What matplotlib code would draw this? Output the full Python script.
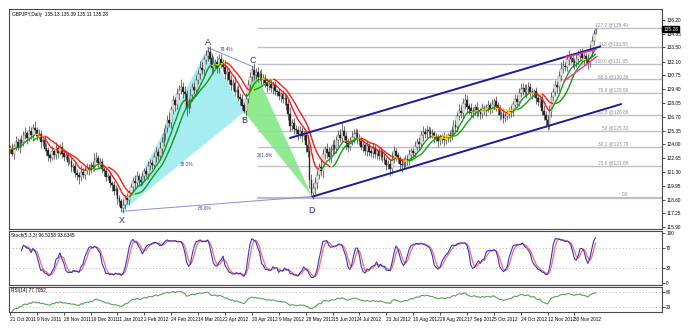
import numpy as np
import pandas as pd
import matplotlib
matplotlib.use("Agg")
import matplotlib.pyplot as plt
from matplotlib.collections import LineCollection
from matplotlib.patches import Polygon

plt.rcParams["font.family"] = ["Liberation Sans", "DejaVu Sans"]

# daily closes, GBPJPY (one per bar)
closes = [
    123.6, 123.1, 123.8, 124.2, 123.7, 124.4, 124.1, 124.9, 125.1, 124.6,
    125.3, 124.9, 125.6, 125.4, 124.8, 125.0, 124.2, 124.4, 123.6, 123.4,
    122.9, 122.7, 123.3, 123.0, 123.6, 123.2, 123.7, 123.1, 122.8, 122.9,
    122.3, 122.4, 121.8, 121.9, 121.2, 121.0, 120.8, 121.3, 121.0, 121.5,
    121.7, 121.5, 122.0, 121.8, 122.5, 122.7, 122.2, 122.3, 121.6, 121.4,
    120.8, 120.9, 120.2, 120.0, 119.4, 119.6, 118.7, 118.4, 117.8, 118.1,
    118.7, 118.6, 119.3, 119.8, 120.4, 120.2, 120.9, 120.5, 120.3, 120.9,
    121.4, 121.1, 121.9, 122.2, 122.0, 122.8, 123.2, 122.9, 123.6, 124.2,
    125.0, 125.6, 126.4, 126.1, 127.4, 128.3, 127.9, 128.9, 129.3, 129.6,
    129.1, 128.9, 127.6, 128.0, 128.8, 129.6, 129.3, 130.3, 130.9, 131.5,
    131.3, 132.3, 132.7, 133.0, 132.4, 131.5, 131.9, 132.0, 131.5, 132.3,
    132.0, 131.6, 130.9, 131.1, 130.3, 129.8, 130.0, 129.1, 129.3, 128.6,
    128.4, 127.8, 127.3, 128.4, 129.8, 130.6, 131.3, 130.8, 131.1, 130.6,
    130.9, 130.3, 130.5, 130.0, 129.7, 129.9, 129.5, 129.8, 129.2, 129.1,
    128.7, 128.9, 128.4, 128.5, 127.9, 127.0, 125.8, 126.1, 125.5, 125.4,
    125.0, 125.3, 124.8, 124.9, 123.9, 123.3, 120.5, 119.3, 119.7, 120.2,
    121.0, 121.8, 121.4, 123.0, 123.5, 123.2, 122.8, 123.5, 123.9, 123.6,
    124.4, 124.9, 124.6, 125.3, 124.8, 124.1, 123.8, 124.3, 124.7, 125.0,
    125.1, 124.6, 124.3, 123.8, 123.9, 123.4, 123.8, 123.3, 123.2, 123.6,
    123.1, 123.3, 122.9, 123.2, 122.8, 122.5, 122.0, 122.1, 121.6, 122.6,
    123.3, 122.9, 122.6, 122.1, 122.0, 122.3, 122.6, 122.4, 123.0, 123.3,
    123.2, 123.8, 124.2, 124.0, 124.9, 125.2, 125.0, 125.4, 125.3, 125.0,
    125.1, 124.7, 124.6, 124.3, 124.5, 124.8, 124.4, 124.6, 124.9, 124.8,
    125.4, 125.9, 125.7, 126.8, 127.3, 127.1, 128.0, 128.3, 127.7, 127.5,
    127.1, 127.3, 127.6, 127.2, 127.3, 127.0, 127.5, 127.3, 127.6, 127.8,
    127.5, 127.9, 128.2, 127.8, 127.5, 126.9, 127.0, 126.6, 126.8, 127.0,
    127.3, 127.2, 127.9, 128.4, 128.2, 129.0, 129.4, 129.5, 129.1, 129.4,
    129.6, 129.1, 129.0, 129.2, 128.5, 128.2, 128.4, 127.3, 126.9, 126.4,
    125.9, 127.2, 128.6, 129.1, 129.8, 129.6, 130.7, 131.4, 131.7, 131.6,
    132.3, 132.6, 132.4, 132.1, 132.0, 132.4, 132.7, 132.9, 132.5, 132.6,
    132.3, 132.0, 133.2, 134.1, 134.8, 135.28,
]
# wick lengths above / below the body, in wick units
wick_unit = 0.13
up_wick = [
    3, 4, 2, 5, 3, 2, 4, 3, 5, 2, 4, 3, 3, 5, 2, 4, 3, 2, 3, 4,
    3, 2, 4, 3, 5, 2, 3, 4, 2, 3, 2, 3, 3, 2, 4, 3, 2, 5, 3, 3,
    4, 3, 2, 3, 5, 4, 2, 3, 3, 2, 3, 2, 4, 2, 3, 3, 2, 3, 2, 4,
    3, 4, 2, 3, 3, 5, 4, 2, 3, 3, 2, 3, 4, 3, 2, 3, 4, 3, 5, 4,
    5, 3, 4, 6, 3, 4, 3, 5, 4, 6, 4, 5, 3, 4, 5, 3, 4, 4, 3, 5,
    4, 3, 4, 4, 5, 4, 6, 3, 5, 4, 4, 3, 5, 4, 3, 4, 3, 5, 3, 4,
    3, 4, 3, 5, 4, 4, 3, 5, 3, 4, 3, 4, 3, 3, 4, 2, 4, 3, 3, 2,
    3, 2, 3, 4, 3, 4, 5, 3, 4, 3, 3, 4, 3, 3, 4, 5, 4, 5, 4, 5,
    4, 3, 5, 4, 3, 5, 4, 3, 4, 5, 3, 4, 5, 6, 4, 3, 4, 3, 5, 4,
    4, 3, 3, 4, 3, 2, 4, 3, 3, 4, 3, 2, 3, 4, 3, 3, 2, 3, 4, 5,
    4, 3, 3, 2, 3, 4, 3, 3, 4, 3, 3, 4, 3, 4, 3, 5, 3, 4, 3, 3,
    3, 2, 3, 3, 4, 2, 3, 3, 2, 3, 3, 4, 4, 3, 5, 4, 4, 5, 4, 3,
    4, 3, 3, 4, 3, 2, 4, 3, 3, 4, 3, 4, 3, 4, 3, 3, 2, 4, 3, 3,
    3, 4, 3, 4, 3, 4, 5, 4, 3, 4, 4, 3, 3, 2, 3, 4, 3, 3, 4, 3,
    4, 5, 4, 3, 4, 3, 4, 5, 4, 3, 4, 5, 3, 4, 3, 4, 4, 3, 4, 3,
    3, 4, 5, 4, 3, 1,
]
dn_wick = [
    3, 2, 4, 3, 2, 4, 3, 2, 3, 4, 2, 3, 4, 3, 3, 2, 4, 3, 2, 3,
    4, 3, 2, 3, 3, 4, 2, 3, 3, 2, 3, 2, 4, 3, 3, 4, 5, 3, 2, 3,
    3, 4, 2, 3, 3, 2, 4, 3, 3, 4, 3, 2, 3, 4, 3, 3, 4, 3, 3, 4,
    3, 3, 4, 2, 3, 4, 3, 4, 3, 2, 3, 2, 4, 3, 3, 2, 4, 3, 3, 4,
    3, 4, 3, 3, 4, 3, 5, 3, 4, 3, 4, 5, 6, 4, 3, 4, 3, 4, 3, 4,
    3, 4, 3, 4, 4, 5, 4, 3, 4, 4, 4, 3, 4, 5, 3, 4, 4, 3, 4, 3,
    4, 3, 2, 4, 3, 4, 3, 4, 3, 4, 3, 4, 3, 3, 4, 3, 3, 4, 3, 3,
    3, 4, 3, 4, 4, 5, 4, 3, 4, 3, 4, 3, 4, 3, 5, 4, 6, 3, 5, 4,
    4, 3, 4, 5, 3, 4, 4, 5, 3, 4, 3, 4, 3, 3, 4, 5, 4, 3, 3, 4,
    3, 4, 3, 3, 4, 3, 4, 3, 3, 4, 3, 4, 3, 3, 4, 3, 4, 3, 5, 4,
    3, 4, 3, 4, 5, 3, 4, 3, 3, 4, 4, 3, 3, 4, 3, 4, 3, 3, 4, 3,
    3, 4, 3, 4, 3, 3, 4, 3, 3, 4, 3, 4, 3, 4, 3, 4, 3, 4, 5, 4,
    3, 4, 3, 4, 3, 4, 3, 3, 4, 3, 4, 3, 3, 4, 5, 4, 3, 4, 3, 3,
    3, 4, 3, 3, 4, 3, 3, 4, 3, 4, 3, 3, 4, 3, 4, 3, 4, 3, 4, 5,
    4, 3, 4, 3, 3, 4, 3, 4, 3, 3, 3, 4, 3, 4, 5, 3, 4, 3, 4, 5,
    4, 5, 3, 4, 3, 0,
]

date_labels = ["21 Oct 2011", "9 Nov 2011", "28 Nov 2011", "19 Dec 2011", "11 Jan 2012",
               "2 Feb 2012", "24 Feb 2012", "14 Mar 2012", "2 Apr 2012", "20 Apr 2012",
               "9 May 2012", "28 May 2012", "15 Jun 2012", "4 Jul 2012", "23 Jul 2012",
               "10 Aug 2012", "29 Aug 2012", "17 Sep 2012", "5 Oct 2012", "24 Oct 2012",
               "12 Nov 2012", "30 Nov 2012"]
bars_per_label = 14
price_ticks = [136.20, 134.85, 133.50, 132.10, 130.75, 129.40, 128.05, 126.70,
               125.35, 124.00, 122.65, 121.30, 119.95, 118.60, 117.25, 115.90]

# fibonacci grid
fib_levels = [0.0, 23.6, 38.2, 50.0, 61.8, 78.6, 88.6, 100.0, 113, 127.2]
fib_lo, fib_hi = 118.80, 131.85
fib_start = 129

# XABCD pattern (bar, price)
pat_names = ["X", "A", "B", "C", "D"]
pat_bar = [58.3, 103.1, 122.0, 126.6, 157.3]
pat_px = [117.46, 133.48, 127.17, 131.6, 118.91]

# trend lines (bar, price) pairs
chan_up = [(146, 124.64), (307.3, 133.57)]
chan_dn = [(157.8, 118.91), (318.2, 127.94)]
wedge_up = [(289, 132.51), (305.2, 133.29)]
wedge_dn = [(288.5, 130.18), (305.7, 132.61)]

FS = 3.4

c = pd.Series(closes)
o = c.shift(1).fillna(c.iloc[0])
h = np.maximum(o, c) + np.array(up_wick) * wick_unit
l = np.minimum(o, c) - np.array(dn_wick) * wick_unit
x = np.arange(len(c))

fig = plt.figure(figsize=(6.91, 3.31), dpi=100)
ax = fig.add_axes([9/691, 1-229/331, 653/691, 220/331])
ax2 = fig.add_axes([9/691, 1-285/331, 653/691, 54/331], sharex=ax)
ax3 = fig.add_axes([9/691, 1-312/331, 653/691, 25/331], sharex=ax)

xmax = 339.6
ax.set_xlim(-0.5, xmax)
ax.set_ylim(115.73, 137.25)

# pattern triangles
ax.add_patch(Polygon([(pat_bar[0], pat_px[0]), (pat_bar[1], pat_px[1]), (pat_bar[2], pat_px[2])],
                     closed=True, fc="#a6ecf0", ec="none", zorder=1))
ax.add_patch(Polygon([(pat_bar[2], pat_px[2]), (pat_bar[3], pat_px[3]), (pat_bar[4], pat_px[4])],
                     closed=True, fc="#8eec8e", ec="none", zorder=1))
ax.plot([pat_bar[0], pat_bar[4]], [pat_px[0], pat_px[4]], color="#8c8cd8", lw=0.7, zorder=2)
ax.plot([pat_bar[1], pat_bar[3]], [pat_px[1], pat_px[3]], color="#8c8cd8", lw=0.7, zorder=2)

# fib levels
rng = fib_hi - fib_lo
for lv in fib_levels:
    p = fib_lo + rng * lv / 100
    ax.plot([fib_start, xmax], [p, p], color="#bdbdcc", lw=1.0 if lv else 1.6, zorder=1)
    txt = "0.0" if lv == 0 else f"{lv:g} @{p:.2f}"
    if lv == 100:
        txt = f"100.0 @{p:.2f}"
    ax.text(322, p + 0.05, txt, fontsize=FS, color="#8a8a9a", ha="right", va="bottom")

# candles
up = c >= o
ax.vlines(x, l, h, color="#262626", lw=0.45, zorder=3)
ax.bar(x[up], (c - o)[up].values + 0.02, bottom=o[up].values, width=0.9,
       color="white", edgecolor="#262626", lw=0.25, zorder=4)
ax.bar(x[~up], (o - c)[~up].values + 0.02, bottom=c[~up].values, width=0.9,
       color="#262626", edgecolor="#262626", lw=0.25, zorder=4)

# moving averages coloured by slope
def slope_line(s, lw):
    v = s.values
    segs, cols = [], []
    for i in range(1, len(v)):
        if np.isnan(v[i - 1]):
            continue
        d = v[i] - v[i - 1]
        cols.append("#0a9a0a" if d > 0.04 else "#ff1010" if d < -0.04 else "#ffd800")
        segs.append([(i - 1, v[i - 1]), (i, v[i])])
    ax.add_collection(LineCollection(segs, colors=cols, lw=lw, zorder=5))

med = (h + l) / 2
slope_line(med.rolling(13).mean(), 1.0)
slope_line(med.ewm(span=8, adjust=False).mean(), 1.0)

# channels
for ln, col, lw in [(chan_up, "#1c1c96", 1.4), (chan_dn, "#1c1c96", 1.4),
                    (wedge_up, "#ff2aa0", 1.0), (wedge_dn, "#ff2aa0", 1.0)]:
    ax.plot([ln[0][0], ln[1][0]], [ln[0][1], ln[1][1]], color=col, lw=lw, zorder=6)

# pattern letters and ratios
offs = [-0.9, 0.5, -0.85, 0.6, -1.35]
for nm, b, p, dy in zip(pat_names, pat_bar, pat_px, offs):
    ax.text(b, p + dy, nm, fontsize=6.5, color="#2a2a8c", ha="center", va="center", zorder=7)
ax.text(101.6, 117.75, "88.6%", fontsize=FS, color="#4646a0", ha="center", va="center")
ax.text(92.2, 122.0, "38.2%", fontsize=FS, color="#4646a0", ha="center", va="center")
ax.text(132.8, 122.9, "261.8%", fontsize=FS, color="#4646a0", ha="center", va="center")
ax.text(113.0, 133.3, "78.4%", fontsize=FS, color="#4646a0", ha="center", va="center")

ax.text(0.004, 0.985, "GBPJPY,Daily  135.13 135.39 135.11 135.28", transform=ax.transAxes,
        fontsize=FS, ha="left", va="top")

ax.yaxis.tick_right()
ax.set_yticks(price_ticks)
ax.set_yticklabels([f"{t:.2f}" for t in price_ticks])
ax.text(1.002, closes[-1], f"{closes[-1]:.2f}", transform=ax.get_yaxis_transform(),
        fontsize=FS, color="white", ha="left", va="center",
        bbox=dict(fc="black", ec="black", pad=0.6), zorder=10)

# stochastic 5,3,3
ll = l.rolling(5).min()
hh = h.rolling(5).max()
k = (c - ll).rolling(3).sum() / (hh - ll).rolling(3).sum() * 100
d = k.rolling(3).mean()
ax2.plot(x, d, color="#ff6a6a", lw=0.9)
ax2.plot(x, k, color="#3434c8", lw=0.8)
ax2.set_ylim(-4, 104)
for lvl in (70, 30):
    ax2.axhline(lvl, color="#a0a0a0", lw=0.6, ls=(0, (1, 3)))
ax2.yaxis.tick_right()
ax2.set_yticks([100, 70, 30, 0])
ax2.text(0.003, 0.97, "Stoch(5,3,3) 96.5258 93.6345", transform=ax2.transAxes,
         fontsize=FS, ha="left", va="top")

# RSI 14
delta = c.diff()
gain = delta.clip(lower=0).ewm(alpha=1/14, adjust=False).mean()
loss = (-delta.clip(upper=0)).ewm(alpha=1/14, adjust=False).mean()
rsi = 100 - 100 / (1 + gain / loss)
ax3.plot(x[1:], rsi[1:], color="#5aa05a", lw=0.8)
ax3.set_ylim(0, 100)
for lvl in (80, 20):
    ax3.axhline(lvl, color="#a0a0a0", lw=0.6, ls=(0, (1, 3)))
ax3.yaxis.tick_right()
ax3.set_yticks([80, 20])
ax3.text(0.003, 0.95, "RSI(14) 77.7052", transform=ax3.transAxes,
         fontsize=FS, ha="left", va="top")

for a in (ax, ax2, ax3):
    for s in a.spines.values():
        s.set_color("#4a4a4a")
        s.set_linewidth(0.8)
    a.tick_params(axis="y", labelsize=FS, length=2, width=0.5, pad=1)
    a.tick_params(axis="x", length=0, labelbottom=False)

ax3.set_xticks(np.arange(len(date_labels)) * bars_per_label)
ax3.set_xticklabels(date_labels)
ax3.tick_params(axis="x", labelbottom=True, labelsize=FS, length=2, width=0.5, pad=1.5)
for t in ax3.get_xticklabels():
    t.set_ha("left")

fig.savefig("out.png", dpi=100)
